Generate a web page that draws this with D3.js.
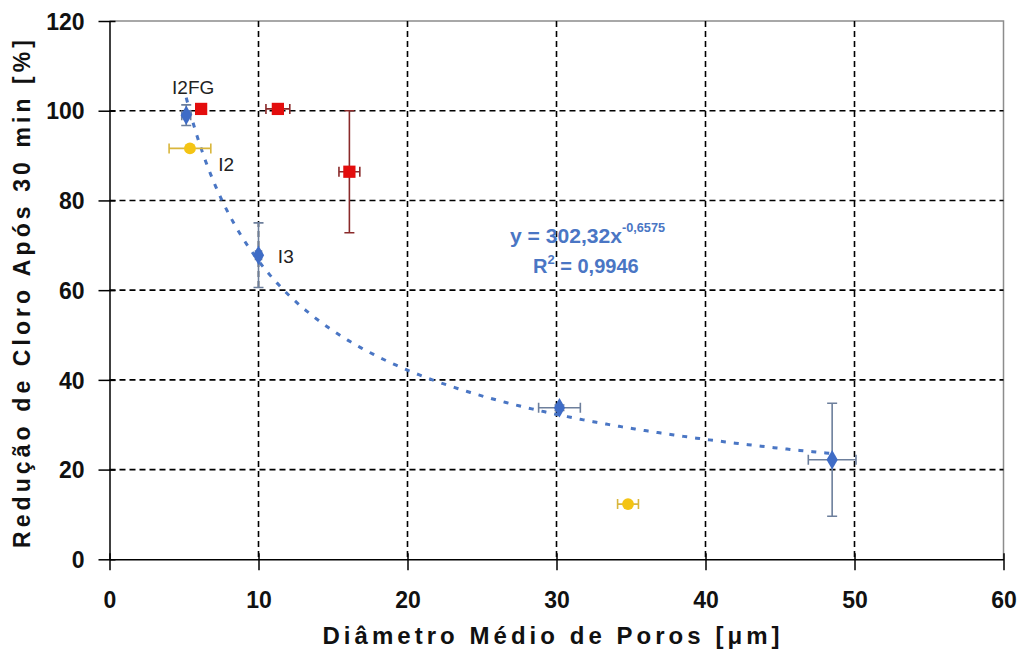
<!DOCTYPE html>
<html><head><meta charset="utf-8">
<script src="https://cdn.jsdelivr.net/npm/d3@7"></script>
<style>body{margin:0;background:#fff}svg{display:block}</style>
</head><body>
<svg id="c" width="1024" height="659"></svg>
<script>
// ---- data ----
const xTicks = [0, 10, 20, 30, 40, 50, 60];
const yTicks = [0, 20, 40, 60, 80, 100, 120];
// blue series (fitted)
const blueX = [5.15, 10.0, 30.2, 48.5];
const blueY = [99.0, 67.8, 33.8, 22.2];
const blueXErr = [0.3, 0.2, 1.4, 1.6];
const blueYErr = [2.3, 7.2, 0.6, 12.6];
// red series
const redX = [6.15, 11.3, 16.1];
const redY = [100.4, 100.4, 86.4];
const redXErr = [0.3, 0.8, 0.7];
const redYErr = [0.5, 0.5, 13.6];
// yellow series
const yelX = [5.4, 34.8];
const yelY = [91.6, 12.3];
const yelXErr = [1.4, 0.7];
const yelYErr = [0.4, 0.4];
// point labels
const labelText = ["I2FG", "I2", "I3"];
const labelX = [4.2, 7.3, 11.3];
const labelY = [105.2, 88.0, 67.6];
// trendline (power) y = a x^b
const trendA = 302.32, trendB = -0.6575;
const trendRange = [5.15, 48.5];

// ---- layout ----
const svg = d3.select("#c");
const L = 109.5, R = 1003.5, T = 21, B = 559.3;
const x = d3.scaleLinear().domain([0, 60]).range([L, R]);
const y = d3.scaleLinear().domain([0, 120]).range([B, T]);
const font = "'Liberation Sans', Arial, sans-serif";

// border (top/right gray)
svg.append("path").attr("d", `M${L},${T}H${R}V${B}`).attr("fill", "none").attr("stroke", "#8c8c8c").attr("stroke-width", 1.5);

// grid
svg.append("g").selectAll("line").data(xTicks.filter(d => d > 0 && d < 60)).join("line")
  .attr("x1", d => x(d)).attr("x2", d => x(d)).attr("y1", T).attr("y2", B)
  .attr("stroke", "#000").attr("stroke-width", 1.6).attr("stroke-dasharray", "6,4");
svg.append("g").selectAll("line").data(yTicks.filter(d => d > 0 && d < 120)).join("line")
  .attr("x1", L).attr("x2", R).attr("y1", d => y(d)).attr("y2", d => y(d))
  .attr("stroke", "#000").attr("stroke-width", 1.6).attr("stroke-dasharray", "6,4");

// axes
const xAxis = svg.append("g").attr("transform", `translate(0,${B})`)
  .call(d3.axisBottom(x).tickValues(xTicks).tickSize(11).tickSizeOuter(0).tickPadding(21));
const yAxis = svg.append("g").attr("transform", `translate(${L},0)`)
  .call(d3.axisLeft(y).tickValues(yTicks).tickSize(11).tickSizeOuter(0).tickPadding(14));
[xAxis, yAxis].forEach(g => {
  g.select(".domain").attr("stroke", "#000").attr("stroke-width", 1.5);
  g.selectAll(".tick line").attr("stroke", "#000").attr("stroke-width", 1.5);
  g.selectAll(".tick text").attr("font-family", font).attr("font-size", 23).attr("font-weight", "bold").attr("fill", "#111");
});
xAxis.selectAll(".tick line").attr("y1", -6);
yAxis.selectAll(".tick line").attr("x1", 6);
yAxis.selectAll(".tick text").attr("dy", "0.36em");

// axis titles
svg.append("text").attr("x", 551).attr("y", 644).attr("text-anchor", "middle")
  .attr("font-family", font).attr("font-size", 24).attr("font-weight", "bold").attr("fill", "#111")
  .attr("textLength", 457).attr("lengthAdjust", "spacing")
  .text("Diâmetro Médio de Poros [μm]");
svg.append("text").attr("transform", "translate(30,294) rotate(-90)").attr("text-anchor", "middle")
  .attr("font-family", font).attr("font-size", 23).attr("font-weight", "bold").attr("fill", "#111")
  .attr("textLength", 508).attr("lengthAdjust", "spacing")
  .text("Redução de Cloro Após 30 min [%]");

// trendline
const tx = d3.range(0, 201).map(i => trendRange[0] + (trendRange[1] - trendRange[0]) * i / 200);
svg.append("path").datum(tx)
  .attr("d", d3.line().x(d => x(d)).y(d => y(trendA * Math.pow(d, trendB))))
  .attr("fill", "none").attr("stroke", "#4a76c4").attr("stroke-width", 3).attr("stroke-dasharray", "5,8");

// error bars + markers
function series(xs, ys, xe, ye, barColor, fill, sym, size) {
  const g = svg.append("g");
  const cap = 5;
  xs.forEach((xv, i) => {
    const cx = x(xv), cy = y(ys[i]);
    const x0 = x(xv - xe[i]), x1 = x(xv + xe[i]);
    const y0 = y(ys[i] - ye[i]), y1 = y(ys[i] + ye[i]);
    g.append("path").attr("d",
      `M${x0},${cy}H${x1}M${x0},${cy - cap}V${cy + cap}M${x1},${cy - cap}V${cy + cap}` +
      `M${cx},${y0}V${y1}M${cx - cap},${y0}H${cx + cap}M${cx - cap},${y1}H${cx + cap}`)
      .attr("stroke", barColor).attr("stroke-width", 1.6).attr("fill", "none");
  });
  g.selectAll("path.m").data(xs).join("path").attr("class", "m")
    .attr("transform", (d, i) => `translate(${x(d)},${y(ys[i])})`)
    .attr("d", d3.symbol().type(sym).size(size)).attr("fill", fill);
}
series(blueX, blueY, blueXErr, blueYErr, "#6d7f9c", "#3f6cc6", d3.symbolDiamond, 110);
series(redX, redY, redXErr, redYErr, "#8a2a2a", "#e30d0d", d3.symbolSquare, 150);
series(yelX, yelY, yelXErr, yelYErr, "#d9b63c", "#f4c414", d3.symbolCircle, 110);

// labels
svg.append("g").selectAll("text").data(labelText).join("text")
  .attr("x", (d, i) => x(labelX[i])).attr("y", (d, i) => y(labelY[i])).attr("dy", "0.35em")
  .attr("font-family", font).attr("font-size", 19).attr("fill", "#222").text(d => d);

// equation
const eq = svg.append("text").attr("x", 510).attr("y", 243)
  .attr("font-family", font).attr("font-size", 20).attr("font-weight", "bold").attr("fill", "#4a76c4");
eq.append("tspan").attr("textLength", 112).attr("lengthAdjust", "spacingAndGlyphs").text("y = 302,32x");
eq.append("tspan").attr("dy", -11).attr("font-size", 13).attr("textLength", 43).attr("lengthAdjust", "spacingAndGlyphs").text("-0,6575");
const r2 = svg.append("text").attr("x", 533).attr("y", 273)
  .attr("font-family", font).attr("font-size", 20).attr("font-weight", "bold").attr("fill", "#4a76c4");
r2.append("tspan").text("R");
r2.append("tspan").attr("dy", -9).attr("font-size", 13).text("2");
r2.append("tspan").attr("dy", 9).text(" = 0,9946");
</script>
</body></html>
